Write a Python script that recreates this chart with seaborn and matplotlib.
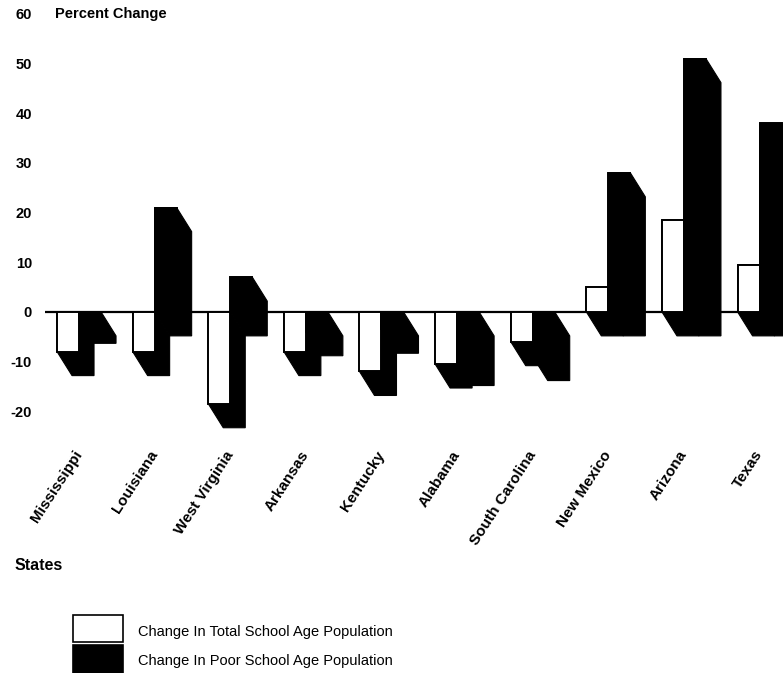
import matplotlib
matplotlib.use("Agg")
import matplotlib.pyplot as plt
from matplotlib.patches import Polygon, Rectangle
import pandas as pd
import seaborn as sns

# Percent change in school age population, by state
states = ["Mississippi", "Louisiana", "West Virginia", "Arkansas", "Kentucky",
          "Alabama", "South Carolina", "New Mexico", "Arizona", "Texas"]
total_change = [-8, -8, -18.5, -8, -12, -10.5, -6, 5, 18.5, 9.5]
poor_change = [-1.5, 21, 7, -4, -3.5, -10, -9, 28, 51, 38]
series_names = ["Change In Total School Age Population",
                "Change In Poor School Age Population"]
y_ticks = [-20, -10, 0, 10, 20, 30, 40, 50, 60]
y_tick_labels = ["-20", "-10", "0", "10", "20", "30", "40", "50", "60"]

df = pd.DataFrame({
    "state": states * 2,
    "series": [series_names[0]] * len(states) + [series_names[1]] * len(states),
    "value": total_change + poor_change,
})

sns.set_theme(style="white")
plt.rcParams["font.family"] = ["Liberation Sans", "DejaVu Sans"]
plt.rcParams["text.color"] = "black"
plt.rcParams["xtick.color"] = "black"
plt.rcParams["ytick.color"] = "black"

W, H = 783, 673
fig = plt.figure(figsize=(W / 100, H / 100), dpi=100)
ax_left, ax_right, ax_top, ax_bottom = 45, 783, 0, 440
ax = fig.add_axes([ax_left / W, 1 - ax_bottom / H,
                   (ax_right - ax_left) / W, (ax_bottom - ax_top) / H])

dark = "black"
palette = {series_names[0]: "white", series_names[1]: dark}
sns.barplot(data=df, x="state", y="value", hue="series", hue_order=series_names,
            palette=palette, width=0.582, dodge=True, edgecolor="black",
            linewidth=1.4, errorbar=None, legend=False, saturation=1,
            ax=ax, zorder=3)

ax.set_xlim(-0.45, 9.31)
ax.set_ylim(-25.8, 62.8)

# depth faces: each bar extruded down and to the right by a fixed pixel offset
to_disp = ax.transData
to_data = ax.transData.inverted()
ddx, ddy = 15, -24
for bar in list(ax.patches):
    x0, y0 = bar.get_x(), bar.get_y()
    w, h = bar.get_width(), bar.get_height()
    L, B = to_disp.transform((x0, min(y0, y0 + h)))
    R, T = to_disp.transform((x0 + w, max(y0, y0 + h)))
    pts = [(L, T), (R, T), (R + ddx, T + ddy), (R + ddx, B + ddy),
           (L + ddx, B + ddy), (L, B)]
    ax.add_patch(Polygon(to_data.transform(pts), closed=True, facecolor="black",
                         edgecolor="black", lw=0.8, zorder=1))

ax.axhline(0, color="black", lw=1.6, zorder=2)

ax.set_yticks(y_ticks)
ax.set_yticklabels(y_tick_labels, fontweight="bold", fontsize=10.5)
ax.tick_params(axis="y", length=0, pad=9.4)
ax.set_xticks(range(len(states)))
ax.set_xticklabels(states, rotation=57, ha="right", va="center",
                   rotation_mode="anchor", fontweight="bold", fontsize=11)
ax.tick_params(axis="x", length=0, pad=8.6)
ax.set_xlabel("")
ax.set_ylabel("")
for s in ax.spines.values():
    s.set_visible(False)
ax.grid(False)

fig.text(55 / W, 1 - 14 / H, "Percent Change", fontweight="bold",
         fontsize=10.5, va="center", ha="left")
fig.text(15 / W, 1 - 566 / H, "States", fontweight="bold",
         fontsize=11.5, va="center", ha="left")

# legend
fig.add_artist(Rectangle((73 / W, 1 - 642 / H), 50 / W, 27 / H,
                         transform=fig.transFigure, facecolor="white",
                         edgecolor="black", lw=1.2))
fig.add_artist(Rectangle((73 / W, 1 - 673 / H), 50 / W, 28 / H,
                         transform=fig.transFigure, facecolor=dark,
                         edgecolor="black", lw=1.2))
fig.text(138 / W, 1 - 632 / H, series_names[0], fontsize=10.5, va="center", ha="left")
fig.text(138 / W, 1 - 661 / H, series_names[1], fontsize=10.5, va="center", ha="left")

fig.savefig("out.png", dpi=100)
